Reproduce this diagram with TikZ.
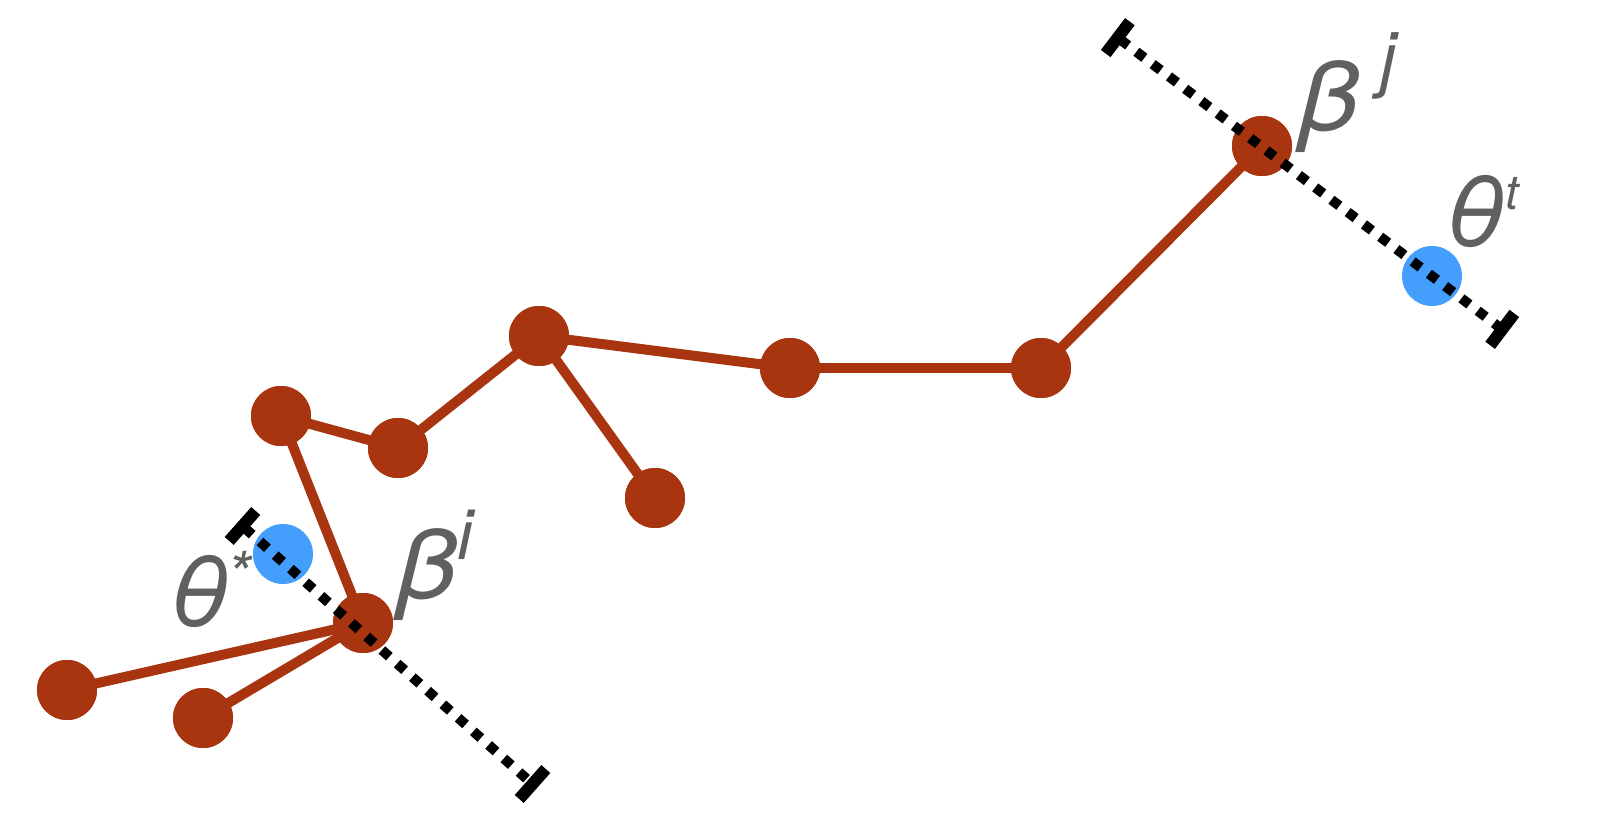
\documentclass[tikz,border=0pt]{standalone}
\usepackage{fontspec}
\setmainfont{TeX Gyre Heros}
\usetikzlibrary{arrows.meta}
\definecolor{nodered}{HTML}{A8350F}
\definecolor{nodeblue}{HTML}{439EFC}
\definecolor{labelgray}{HTML}{606060}
\tikzset{
  rnode/.style={circle, fill=nodered, minimum size=60pt, inner sep=0pt},
  bnode/.style={circle, fill=nodeblue, minimum size=60pt, inner sep=0pt},
  edge/.style={draw=nodered, line width=10pt},
  proj/.style={draw=black, line width=10pt, dash pattern=on 10pt off 10.4pt,
    {Bar[width=40pt,line width=12pt]}-{Bar[width=40pt,line width=12pt]}},
  lbl/.style={text=labelgray, inner sep=0pt, anchor=base west,
    font=\fontsize{96}{96}\selectfont\itshape},
}
\newcommand{\supx}[3]{\raisebox{#1}{\fontsize{#2}{#2}\selectfont #3}}
\newcommand{\wideb}{\scalebox{1.15}[1]{β}}
\newcommand{\widet}{\scalebox{1.1}[1]{θ}}
\begin{document}
\begin{tikzpicture}[x=1pt,y=-1pt]
\useasboundingbox (0,0) rectangle (1612,826);
% red nodes
\node[rnode] (A) at (281,416) {};
\node[rnode] (B) at (398,448) {};
\node[rnode] (C) at (539,336) {};
\node[rnode] (D) at (655,498) {};
\node[rnode] (E) at (790,368) {};
\node[rnode] (F) at (1041,368) {};
\node[rnode] (G) at (1262,146) {};
\node[rnode] (H) at (363,623) {};
\node[rnode] (I) at (67,690) {};
\node[rnode] (J) at (203,718) {};
% blue nodes
\node[bnode] (S) at (283,554) {};
\node[bnode] (T) at (1432,276) {};
% edges
\draw[edge] (A.center) -- (B.center);
\draw[edge] (B.center) -- (C.center);
\draw[edge] (C.center) -- (D.center);
\draw[edge] (C.center) -- (E.center);
\draw[edge] (E.center) -- (F.center);
\draw[edge] (F.center) -- (G.center);
\draw[edge] (A.center) -- (H.center);
\draw[edge] (H.center) -- (I.center);
\draw[edge] (H.center) -- (J.center);
% nodes on top of the edges
\foreach \n in {A,B,C,D,E,F,G,H,I,J} \fill[nodered] (\n) circle (30pt);
% projection lines
\coordinate (p1s) at (1113,34);
\coordinate (p1e) at (1507,333);
\coordinate (p2s) at (238,522);
\coordinate (p2e) at (537,788);
\draw[proj] (p1s) -- (p1e);
\draw[proj] (p2s) -- (p2e);
% labels
\node[lbl] (Lbj) at (1298,131) {\wideb\kern22pt\supx{47pt}{72}{j}};
\node[lbl] (Ltt) at (1444,247) {\widet\kern0pt\supx{37pt}{48}{t}};
\node[lbl] (Lbi) at (396,598) {\wideb\kern1pt\supx{39pt}{70}{i}};
\node[lbl] (Lts) at (168,626) {\widet\kern-3pt\supx{30pt}{62}{*}};
\end{tikzpicture}
\end{document}
